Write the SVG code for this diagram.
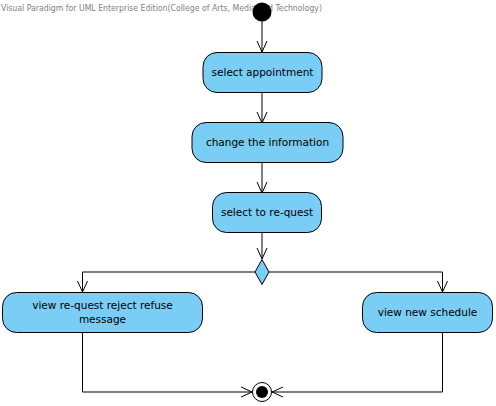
<svg xmlns="http://www.w3.org/2000/svg" width="496" height="406" viewBox="0 0 496 406">
<style>
.act{fill:#7acdf4;stroke:#000;stroke-width:1}
.lbl{font-family:"DejaVu Sans",sans-serif;font-size:10.5px;fill:#000;text-anchor:middle}
.edge{fill:none;stroke:#000;stroke-width:1}
.hdr{font-family:"DejaVu Sans",sans-serif;font-size:8.5px;fill:#808080}
</style>
<defs>
<marker id="arr" markerWidth="12" markerHeight="12" refX="11" refY="6" orient="auto" markerUnits="userSpaceOnUse">
<path d="M0,1 L11,6 L0,11" fill="none" stroke="#000" stroke-width="1"/>
</marker>
</defs>
<rect width="496" height="406" fill="#fff"/>
<text class="hdr" x="1" y="11" textLength="321" lengthAdjust="spacingAndGlyphs">Visual Paradigm for UML Enterprise Edition(College of Arts, Media and Technology)</text>
<g id="connectors">
<line class="edge" x1="262" y1="21" x2="262" y2="52" marker-end="url(#arr)"/>
<line class="edge" x1="262" y1="92" x2="262" y2="123" marker-end="url(#arr)"/>
<line class="edge" x1="262" y1="163" x2="262" y2="193" marker-end="url(#arr)"/>
<line class="edge" x1="262" y1="233" x2="262" y2="259" marker-end="url(#arr)"/>
<polyline class="edge" points="255,272 82.5,272 82.5,292" marker-end="url(#arr)"/>
<polyline class="edge" points="269,272 442.5,272 442.5,292" marker-end="url(#arr)"/>
<polyline class="edge" points="82.5,332 82.5,392 252,392" marker-end="url(#arr)"/>
<polyline class="edge" points="442.5,332 442.5,392 272,392" marker-end="url(#arr)"/>
</g>
<g id="start">
<circle cx="262" cy="12" r="9.5" fill="#000"/>
</g>
<g id="selectAppointment">
<rect class="act" x="203" y="52.5" width="119" height="40" rx="14"/>
<text class="lbl" x="262.5" y="76">select appointment</text>
</g>
<g id="changeInformation">
<rect class="act" x="192" y="122.5" width="151" height="40" rx="14"/>
<text class="lbl" x="267.5" y="146">change the information</text>
</g>
<g id="selectRequest">
<rect class="act" x="212.5" y="192.5" width="109" height="40" rx="14"/>
<text class="lbl" x="267" y="216">select to re-quest</text>
</g>
<g id="decision">
<polygon points="262,259.5 269,272 262,284.5 255,272" fill="#7acdf4" stroke="#000" stroke-width="1"/>
</g>
<g id="viewReject">
<rect class="act" x="2.5" y="292.5" width="200" height="40" rx="14"/>
<text class="lbl" x="102.5" y="309">view re-quest reject refuse</text>
<text class="lbl" x="102.5" y="323">message</text>
</g>
<g id="viewSchedule">
<rect class="act" x="362.5" y="292.5" width="130" height="40" rx="14"/>
<text class="lbl" x="427.5" y="316">view new schedule</text>
</g>
<g id="end">
<circle cx="262" cy="392" r="9.5" fill="#fff" stroke="#000" stroke-width="1"/>
<circle cx="262" cy="392" r="6" fill="#000"/>
</g>
</svg>
